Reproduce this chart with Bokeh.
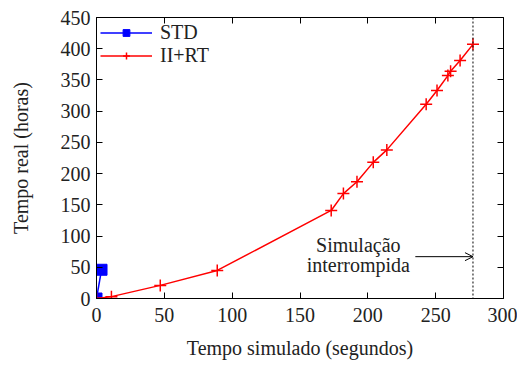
from bokeh.plotting import figure
from bokeh.models import (FixedTicker, LinearAxis, Span, Arrow, OpenHead, Label,
                          Legend, LegendItem, Range1d)
from bokeh.embed import file_html
from bokeh.resources import INLINE

# ---- data ----
std_x = [0, 3.7]
std_y = [0, 46]
iirt_x = [0, 11, 47, 89, 173, 182, 192, 204, 214, 243, 251, 259, 261, 268, 277.5]
iirt_y = [0, 3, 21, 45, 141, 168, 187, 218, 238, 311, 333, 357, 364, 381, 407]
x_ticks = [0, 50, 100, 150, 200, 250, 300]
y_ticks = [0, 50, 100, 150, 200, 250, 300, 350, 400, 450]
stop_x = 277.5
note_lines = ["Simulação", "interrompida"]
x_label = "Tempo simulado (segundos)"
y_label = "Tempo real (horas)"

FONT = "Liberation Serif"
TXT = "#222222"
FS = "20px"

p = figure(width=517, height=365, output_backend="svg", toolbar_location=None,
           x_range=Range1d(0, 300), y_range=Range1d(0, 450),
           min_border_left=96, min_border_right=14, min_border_top=17, min_border_bottom=67)
p.xgrid.visible = False
p.ygrid.visible = False
p.outline_line_color = "black"
p.outline_line_width = 1
p.background_fill_color = "white"
p.border_fill_color = "white"

for ax in (p.xaxis[0], p.yaxis[0]):
    ax.axis_line_color = "black"
    ax.major_tick_in = 6
    ax.major_tick_out = 0
    ax.minor_tick_line_color = None
    ax.major_tick_line_color = "black"
    ax.major_label_text_font = FONT
    ax.major_label_text_font_size = FS
    ax.major_label_text_color = TXT
    ax.axis_label_text_font = FONT
    ax.axis_label_text_font_size = FS
    ax.axis_label_text_font_style = "normal"
    ax.axis_label_text_color = TXT

p.xaxis[0].ticker = FixedTicker(ticks=x_ticks)
p.yaxis[0].ticker = FixedTicker(ticks=y_ticks)
p.xaxis[0].axis_label = x_label
p.yaxis[0].axis_label = y_label
p.xaxis[0].major_label_standoff = 9
p.yaxis[0].major_label_standoff = 6
p.xaxis[0].axis_label_standoff = 12
p.yaxis[0].axis_label_standoff = 26

# mirror ticks (no labels)
top = LinearAxis(ticker=FixedTicker(ticks=x_ticks), axis_line_color=None,
                 major_tick_in=6, major_tick_out=0, minor_tick_line_color=None,
                 major_label_overrides={t: "" for t in x_ticks}, major_label_standoff=0)
right = LinearAxis(ticker=FixedTicker(ticks=y_ticks), axis_line_color=None,
                   major_tick_in=6, major_tick_out=0, minor_tick_line_color=None,
                   major_label_overrides={t: "" for t in y_ticks}, major_label_standoff=0)
p.add_layout(top, "above")
p.add_layout(right, "right")

# data
l1 = p.line(std_x, std_y, line_color="#0000ff", line_width=1.5)
m1 = p.scatter(std_x, std_y, marker="square", size=11, fill_color="#0000ff", line_color="#0000ff")
l2 = p.line(iirt_x, iirt_y, line_color="#ff0000", line_width=1.5)
m2 = p.scatter(iirt_x, iirt_y, marker="cross", size=12, line_color="#ff0000", line_width=1.5)

# interruption line
p.add_layout(Span(location=stop_x, dimension="height", line_color="black",
                  line_dash="2 2", line_width=1))
p.add_layout(Arrow(end=OpenHead(size=8, line_color="black", line_width=1),
                   x_start=235, y_start=67, x_end=stop_x, y_end=67,
                   line_color="black", line_width=1))
p.add_layout(Label(x=193, y=86, text=note_lines[0], text_align="center",
                   text_baseline="middle", text_font=FONT, text_font_size=FS,
                   text_color=TXT))
p.add_layout(Label(x=193, y=54, text=note_lines[1], text_align="center",
                   text_baseline="middle", text_font=FONT, text_font_size=FS,
                   text_color=TXT))

legend = Legend(items=[LegendItem(label="STD", renderers=[l1, m1]),
                       LegendItem(label="II+RT", renderers=[l2, m2])],
                location="top_left", border_line_color=None, background_fill_alpha=0,
                glyph_width=52, glyph_height=17, label_text_font=FONT,
                label_text_font_size=FS, label_text_color=TXT, label_height=17,
                spacing=0, padding=2, margin=4, label_standoff=8)
p.add_layout(legend)

open("out.html", "w").write(file_html(p, INLINE))
